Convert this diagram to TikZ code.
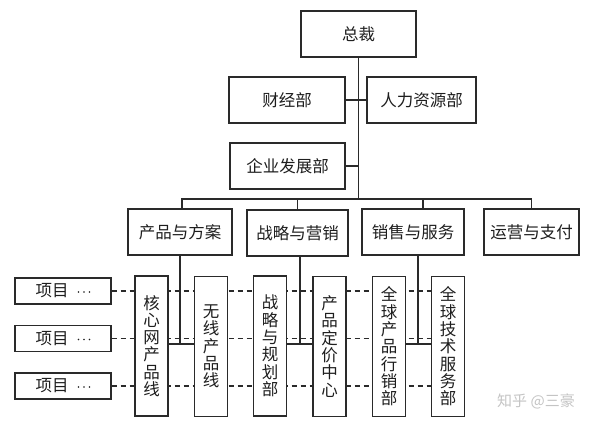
\documentclass[tikz,border=0pt]{standalone}
\usepackage{fontspec}
\setmainfont{Noto Sans CJK SC}
\definecolor{ln}{HTML}{2A2A2A}
\definecolor{tx}{HTML}{1E1E1E}
\definecolor{wm}{HTML}{C4C4C4}
\newcommand{\mdots}{\raisebox{0.3em}{\tikz[baseline=0pt]{\foreach \i in {0,1,2}{\fill[tx] (\i*5.5pt,0) circle (0.9pt);}}}}
\tikzset{
  box/.style={draw=ln, line width=1.1pt, fill=white, text=tx, inner sep=0pt,
    font=\fontsize{16.5}{18}\selectfont, minimum height=46pt},
  vbox/.style={draw=ln, line width=1.1pt, fill=white, text=tx, inner sep=0pt,
    align=center, font=\fontsize{16.5}{17.3}\selectfont, minimum width=33pt, minimum height=140pt},
  xmbox/.style={draw=ln, line width=1.1pt, fill=white, text=tx, inner sep=0pt,
    font=\fontsize{16.5}{18}\selectfont, minimum width=96pt, minimum height=26pt},
  conn/.style={draw=ln, line width=1.1pt},
  dconn/.style={draw=ln, line width=1.1pt, dash pattern=on 5pt off 4pt}
}
\begin{document}
\begin{tikzpicture}[x=1pt,y=-1pt]
\useasboundingbox (0,0) rectangle (600,425);
\node[box, minimum width=115pt] (zc) at (358.5,34) {总裁};
\node[box, minimum width=116pt] (cj) at (287,100) {财经部};
\node[box, minimum width=109pt] (rl) at (421.5,100) {人力资源部};
\node[box, minimum width=115pt] (qy) at (287.5,166) {企业发展部};
\node[box, minimum width=104pt] (cp) at (180,232) {产品与方案};
\node[box, minimum width=101pt] (zl) at (297.5,233) {战略与营销};
\node[box, minimum width=102pt] (xs) at (413,232) {销售与服务};
\node[box, minimum width=95pt] (yy) at (531.5,232) {运营与支付};
\coordinate (bus) at (359,199);
% connectors (upper)
\draw[conn] (zc.south) -- (zc.south |- bus);
\draw[conn] (cj.east) -- (rl.west);
\draw[conn] (qy.east) -- (qy.east -| zc.south);
\draw[conn] ([xshift=2pt]cp.north) -- ([xshift=2pt]cp.north |- bus) -- (yy.north |- bus) -- (yy.north);
\draw[conn] (zl.north) -- (zl.north |- bus);
\draw[conn] ([xshift=10pt]xs.north) -- ([xshift=10pt]xs.north |- bus);
% lower: item boxes
\node[xmbox] (x1) at (63,291) {项目\hspace{9pt}\mdots};
\node[xmbox] (x2) at (63,338.5) {项目\hspace{9pt}\mdots};
\node[xmbox] (x3) at (63,386) {项目\hspace{9pt}\mdots};
\coordinate (qjl) at (432,346);
\draw[dconn] (x1.east) -- (x1.east -| qjl);
\draw[dconn] (x2.east) -- (x2.east -| qjl);
\draw[dconn] (x3.east) -- (x3.east -| qjl);
% solid drops
\coordinate (h) at (0,344);
\draw[conn] (cp.south) -- (cp.south |- h);
\draw[conn] ([xshift=2.5pt]zl.south) -- ([xshift=2.5pt]zl.south |- h);
\draw[conn] ([xshift=5pt]xs.south) -- ([xshift=5pt]xs.south |- h);
% vertical boxes
\node[vbox] (hx) at (151.5,346) {核\\心\\网\\产\\品\\线};
\node[vbox] (wx) at (211,346.5) {无\\线\\产\\品\\线};
\node[vbox] (zg) at (270,346) {战\\略\\与\\规\\划\\部};
\node[vbox] (cd) at (329.5,346.5) {产\\品\\定\\价\\中\\心};
\node[vbox] (qc) at (389,346.5) {全\\球\\产\\品\\行\\销\\部};
\node[vbox] (qj) at (448,346.5) {全\\球\\技\\术\\服\\务\\部};
\draw[conn] (hx.east |- h) -- (wx.west |- h);
\draw[conn] (zg.east |- h) -- (cd.west |- h);
\draw[conn] (qc.east |- h) -- (qj.west |- h);
\node[text=wm, font=\fontsize{15}{16}\selectfont, inner sep=0pt] (wmk) at (536,401) {知乎 @三豪};
\end{tikzpicture}
\end{document}
